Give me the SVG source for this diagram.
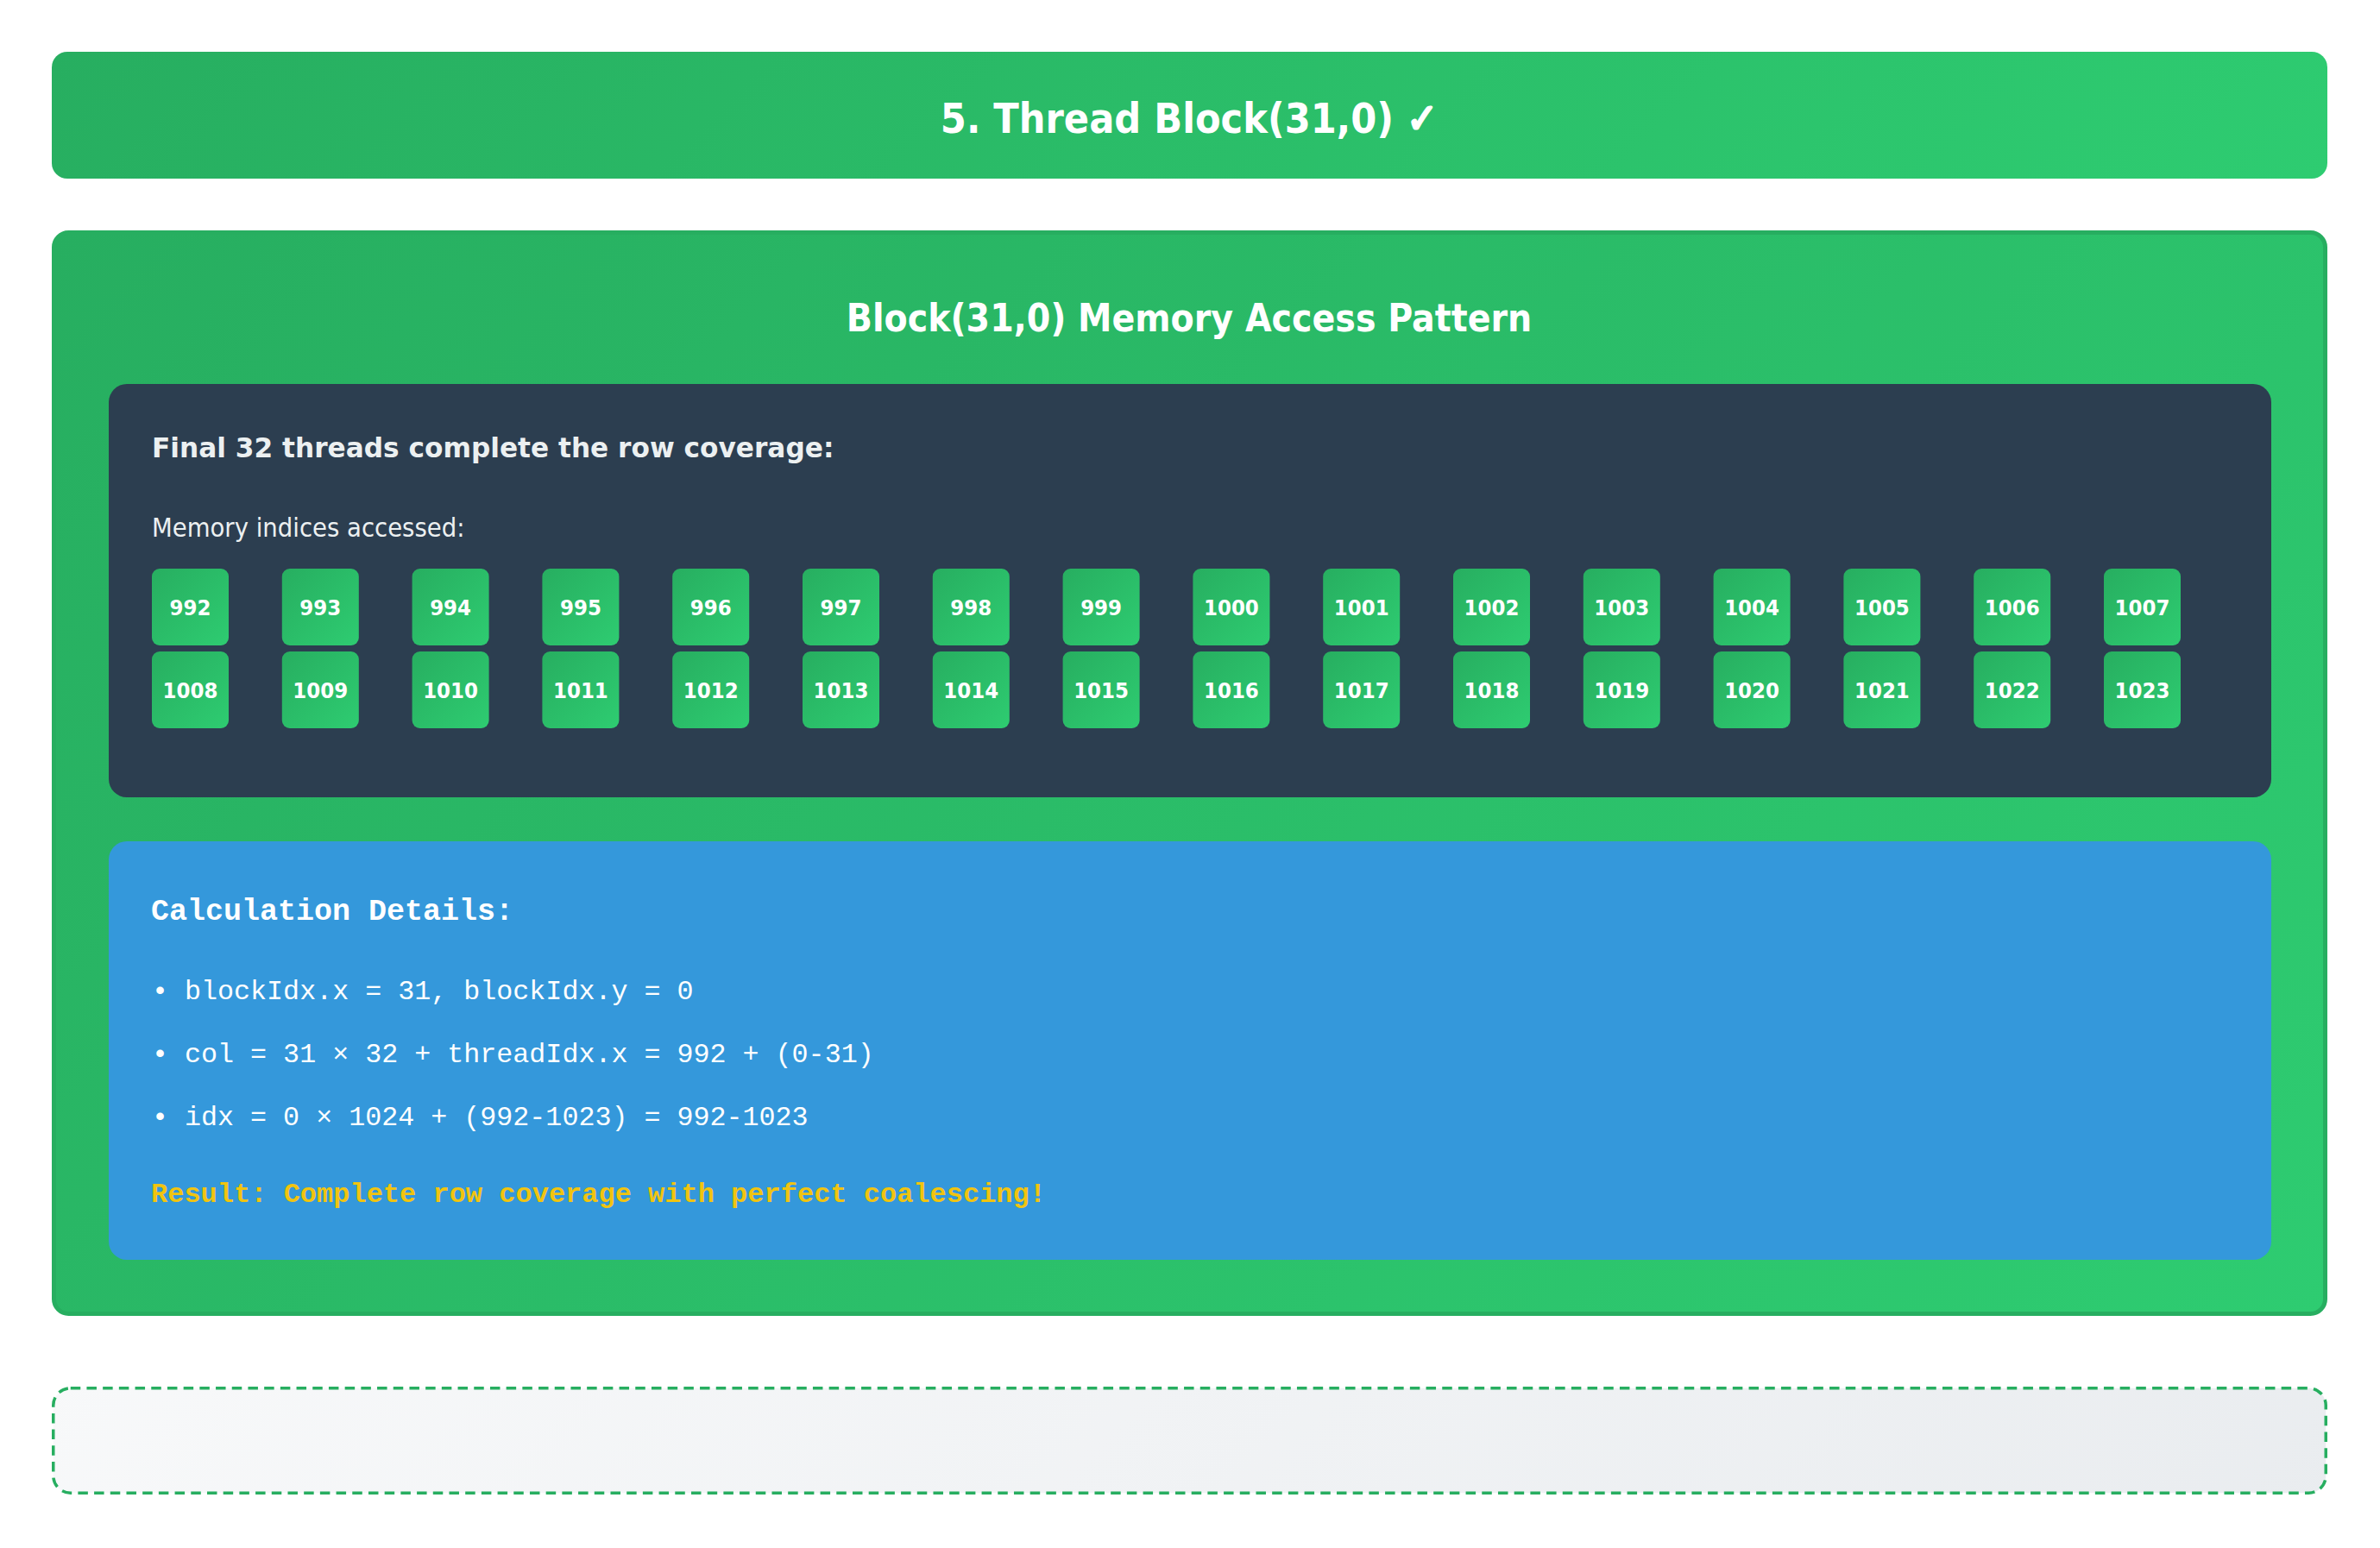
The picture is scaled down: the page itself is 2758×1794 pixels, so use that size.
<svg xmlns="http://www.w3.org/2000/svg" width="2758" height="1794" viewBox="0 0 2758 1794">
<defs>
<linearGradient id="gHead" gradientUnits="userSpaceOnUse" x1="682.5" y1="-562.5" x2="2074.5" y2="829.5"><stop offset="0" stop-color="#27ae60"/><stop offset="1" stop-color="#2ecc71"/></linearGradient>
<linearGradient id="gMain" gradientUnits="userSpaceOnUse" x1="404.8" y1="-77.7" x2="2352.2" y2="1869.7"><stop offset="0" stop-color="#27ae60"/><stop offset="1" stop-color="#2ecc71"/></linearGradient>
<linearGradient id="gDash" gradientUnits="userSpaceOnUse" x1="640.5" y1="931.5" x2="2116.5" y2="2407.5"><stop offset="0" stop-color="#f8f9fa"/><stop offset="1" stop-color="#e9ecef"/></linearGradient>
<linearGradient id="gCell" x1="0" y1="0" x2="1" y2="1"><stop offset="0" stop-color="#27ae60"/><stop offset="1" stop-color="#2ecc71"/></linearGradient>
</defs>
<style>
.h1{font-family:"DejaVu Sans Condensed","DejaVu Sans",sans-serif;font-weight:bold;font-size:48px;fill:#ffffff;text-anchor:middle}
.chk{stroke:#ffffff;stroke-width:2.5px}
.h2{font-family:"DejaVu Sans Condensed","DejaVu Sans",sans-serif;font-weight:bold;font-size:44px;fill:#ffffff;text-anchor:middle}
.h3{font-family:"DejaVu Sans",sans-serif;font-weight:bold;font-size:31.2px;fill:#ecf0f1}
.lbl{font-family:"DejaVu Sans Condensed","DejaVu Sans",sans-serif;font-size:30.6px;fill:#ecf0f1}
.cell rect{fill:url(#gCell)}
.cell text{font-family:"DejaVu Sans Condensed","DejaVu Sans",sans-serif;font-weight:bold;font-size:25.5px;fill:#ffffff;text-anchor:middle}
.mono{font-family:"Liberation Mono","Courier New",monospace;font-size:31.7px;fill:#ffffff}
.monoh{font-family:"Liberation Mono","Courier New",monospace;font-size:35px;font-weight:bold;fill:#ffffff}
.res{font-family:"Liberation Mono","Courier New",monospace;font-size:32px;font-weight:bold;fill:#f1c40f}
</style>
<rect width="2758" height="1794" fill="#ffffff"/>
<g id="header">
<rect x="60" y="60" width="2637" height="147" rx="18" fill="url(#gHead)"/>
<text class="h1" x="1378" y="154">5. Thread Block(31,0) <tspan class="chk">✓</tspan></text>
</g>
<g id="main">
<rect x="62.5" y="269.5" width="2632" height="1253" rx="17" fill="url(#gMain)" stroke="#27ae60" stroke-width="5"/>
<text class="h2" x="1378" y="384">Block(31,0) Memory Access Pattern</text>
</g>
<g id="pattern">
<rect x="126" y="445" width="2506" height="479" rx="21" fill="#2c3e50"/>
<text class="h3" x="176" y="530">Final 32 threads complete the row coverage:</text>
<text class="lbl" x="176" y="622">Memory indices accessed:</text>
</g>
<g id="cells">
<g class="cell" id="c992"><rect x="176" y="659" width="89" height="89" rx="9"/><text x="220.5" y="713">992</text></g>
<g class="cell" id="c993"><rect x="326.8" y="659" width="89" height="89" rx="9"/><text x="371.3" y="713">993</text></g>
<g class="cell" id="c994"><rect x="477.6" y="659" width="89" height="89" rx="9"/><text x="522.1" y="713">994</text></g>
<g class="cell" id="c995"><rect x="628.4" y="659" width="89" height="89" rx="9"/><text x="672.9" y="713">995</text></g>
<g class="cell" id="c996"><rect x="779.2" y="659" width="89" height="89" rx="9"/><text x="823.7" y="713">996</text></g>
<g class="cell" id="c997"><rect x="930" y="659" width="89" height="89" rx="9"/><text x="974.5" y="713">997</text></g>
<g class="cell" id="c998"><rect x="1080.8" y="659" width="89" height="89" rx="9"/><text x="1125.3" y="713">998</text></g>
<g class="cell" id="c999"><rect x="1231.6" y="659" width="89" height="89" rx="9"/><text x="1276.1" y="713">999</text></g>
<g class="cell" id="c1000"><rect x="1382.4" y="659" width="89" height="89" rx="9"/><text x="1426.9" y="713">1000</text></g>
<g class="cell" id="c1001"><rect x="1533.2" y="659" width="89" height="89" rx="9"/><text x="1577.7" y="713">1001</text></g>
<g class="cell" id="c1002"><rect x="1684" y="659" width="89" height="89" rx="9"/><text x="1728.5" y="713">1002</text></g>
<g class="cell" id="c1003"><rect x="1834.8" y="659" width="89" height="89" rx="9"/><text x="1879.3" y="713">1003</text></g>
<g class="cell" id="c1004"><rect x="1985.6" y="659" width="89" height="89" rx="9"/><text x="2030.1" y="713">1004</text></g>
<g class="cell" id="c1005"><rect x="2136.4" y="659" width="89" height="89" rx="9"/><text x="2180.9" y="713">1005</text></g>
<g class="cell" id="c1006"><rect x="2287.2" y="659" width="89" height="89" rx="9"/><text x="2331.7" y="713">1006</text></g>
<g class="cell" id="c1007"><rect x="2438" y="659" width="89" height="89" rx="9"/><text x="2482.5" y="713">1007</text></g>
<g class="cell" id="c1008"><rect x="176" y="755" width="89" height="89" rx="9"/><text x="220.5" y="809">1008</text></g>
<g class="cell" id="c1009"><rect x="326.8" y="755" width="89" height="89" rx="9"/><text x="371.3" y="809">1009</text></g>
<g class="cell" id="c1010"><rect x="477.6" y="755" width="89" height="89" rx="9"/><text x="522.1" y="809">1010</text></g>
<g class="cell" id="c1011"><rect x="628.4" y="755" width="89" height="89" rx="9"/><text x="672.9" y="809">1011</text></g>
<g class="cell" id="c1012"><rect x="779.2" y="755" width="89" height="89" rx="9"/><text x="823.7" y="809">1012</text></g>
<g class="cell" id="c1013"><rect x="930" y="755" width="89" height="89" rx="9"/><text x="974.5" y="809">1013</text></g>
<g class="cell" id="c1014"><rect x="1080.8" y="755" width="89" height="89" rx="9"/><text x="1125.3" y="809">1014</text></g>
<g class="cell" id="c1015"><rect x="1231.6" y="755" width="89" height="89" rx="9"/><text x="1276.1" y="809">1015</text></g>
<g class="cell" id="c1016"><rect x="1382.4" y="755" width="89" height="89" rx="9"/><text x="1426.9" y="809">1016</text></g>
<g class="cell" id="c1017"><rect x="1533.2" y="755" width="89" height="89" rx="9"/><text x="1577.7" y="809">1017</text></g>
<g class="cell" id="c1018"><rect x="1684" y="755" width="89" height="89" rx="9"/><text x="1728.5" y="809">1018</text></g>
<g class="cell" id="c1019"><rect x="1834.8" y="755" width="89" height="89" rx="9"/><text x="1879.3" y="809">1019</text></g>
<g class="cell" id="c1020"><rect x="1985.6" y="755" width="89" height="89" rx="9"/><text x="2030.1" y="809">1020</text></g>
<g class="cell" id="c1021"><rect x="2136.4" y="755" width="89" height="89" rx="9"/><text x="2180.9" y="809">1021</text></g>
<g class="cell" id="c1022"><rect x="2287.2" y="755" width="89" height="89" rx="9"/><text x="2331.7" y="809">1022</text></g>
<g class="cell" id="c1023"><rect x="2438" y="755" width="89" height="89" rx="9"/><text x="2482.5" y="809">1023</text></g>
</g>
<g id="calc">
<rect x="126" y="975" width="2506" height="485" rx="21" fill="#3498db"/>
<text class="monoh" x="175" y="1066">Calculation Details:</text>
<text class="mono" x="176" y="1158">• blockIdx.x = 31, blockIdx.y = 0</text>
<text class="mono" x="176" y="1231">• col = 31 × 32 + threadIdx.x = 992 + (0-31)</text>
<text class="mono" x="176" y="1304">• idx = 0 × 1024 + (992-1023) = 992-1023</text>
<text class="res" x="175" y="1393">Result: Complete row coverage with perfect coalescing!</text>
</g>
<g id="placeholder">
<rect x="61.75" y="1608.75" width="2633.5" height="121.5" rx="20" fill="url(#gDash)" stroke="#27ae60" stroke-width="3.5" stroke-dasharray="11.5 7.2"/>
</g>
<g id="connectors"></g>
</svg>
